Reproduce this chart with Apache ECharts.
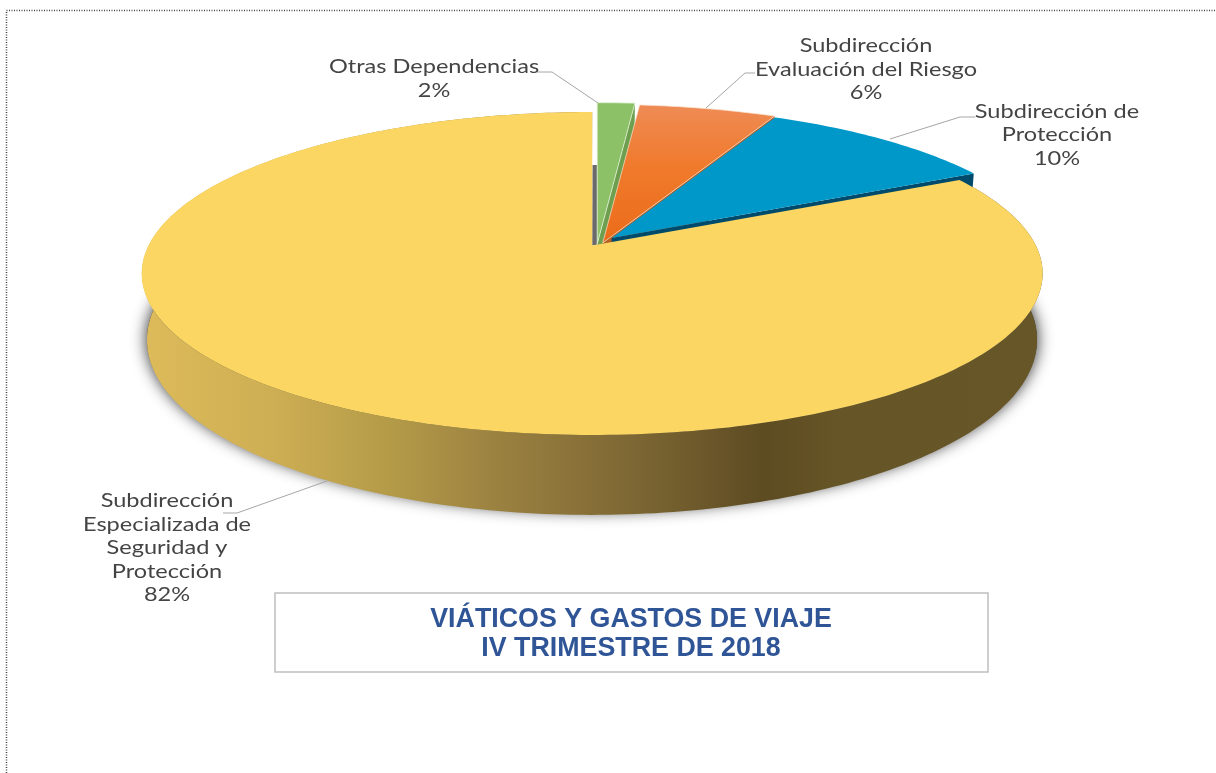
<!DOCTYPE html>
<html>
<head>
<meta charset="utf-8">
<title>Viáticos y gastos de viaje</title>
<script src="https://cdn.jsdelivr.net/npm/echarts@6/dist/echarts.min.js"></script>
<style>
    html, body { margin: 0; padding: 0; background: #fff; }
    #main { width: 1216px; height: 773px; }
</style>
</head>
<body>
<div id="main"></div>
<script>
//Chart data, clockwise from the top of the pie
const categories = [
    'Otras Dependencias',
    'Subdirección\nEvaluación del Riesgo',
    'Subdirección de\nProtección',
    'Subdirección\nEspecializada de\nSeguridad y\nProtección'
];
const shares = [1.5, 5.6, 10.45, 82.45];
const titleLines = ['VIÁTICOS Y GASTOS DE VIAJE', 'IV TRIMESTRE DE 2018'];

//Look of each slice
const topColors = [
    '#8CC168',
    new echarts.graphic.LinearGradient(0, 0, 0, 1, [
        { offset: 0, color: '#EE8B55' },
        { offset: 0.45, color: '#F07A2C' },
        { offset: 1, color: '#EB6C1A' }
    ]),
    '#0098C9',
    '#FBD662'
];
const edgeColors = ['rgba(225,240,215,0.8)', 'rgba(250,225,205,0.7)', null, null];
const wallColors = ['#6E9F4E', '#B55F25', '#004B6B', '#6A6A6A'];
const rimScale = [1.07, 1.045, 0.985, 1];
const sliceShift = [[5, -1.5], [10.5, -2.5], [19.5, -7.5], [0, 0]];

//Where the labels and their leader lines go
const labelSpots = [[434, 79], [866, 69.5], [1057, 135], [167, 548]];
const leaderLines = [
    [[537, 72], [552, 72], [598, 103]],
    [[706, 108], [745, 73], [755, 73]],
    [[890, 139], [960, 117], [975, 117]],
    [[327, 481], [237, 513], [223, 513]]
];

//Perspective of the upper and lower faces of the disc
const topFace = { x: 592.2, y: 245.5, w: 443.6, h: 156.6, k: 0.1734 };
const lowFace = { x: 592, y: 309.6, w: 438.3, h: 169.7, k: 0.1734 };
const haloFace = { x: 592, y: 309.6, w: 438.3, h: 166, k: 0.1734 };

function project(face, deg, r, shift) {
    let t = deg * Math.PI / 180;
    let ux = r * Math.sin(t);
    let uy = r * Math.cos(t);
    let d = 1 + face.k * uy;
    return [
        face.x + shift[0] + face.w * ux / d,
        face.y + shift[1] - face.h * uy / d
    ];
}

function arc(face, from, to, r, shift) {
    let pts = [];
    for (let a = from; a < to; a += 1) {
        pts.push(project(face, a, r, shift));
    }
    pts.push(project(face, to, r, shift));
    return pts;
}

const total = shares.reduce((a, b) => a + b, 0);
let running = 0;
const sliceAngles = shares.map(v => {
    let from = running / total * 360;
    running += v;
    return [from, running / total * 360];
});

function renderOuterWall(params, api) {
    let yellow = sliceAngles[3];
    let upper = arc(topFace, yellow[0], yellow[1], 1, [0, 0]);
    let lower = arc(lowFace, yellow[0], yellow[1], 1, [0, 0]).reverse();
    return {
        type: 'group',
        children: [
            {
                //soft shadow, only its blur shows past the wall
                type: 'polygon',
                silent: true,
                shape: { points: arc(haloFace, 80, 280, 1, [0, 0]) },
                style: {
                    fill: '#444',
                    shadowColor: 'rgba(0,0,0,0.85)',
                    shadowBlur: 16
                }
            },
            {
                type: 'polygon',
                silent: true,
                shape: { points: upper.concat(lower) },
                style: {
                    fill: new echarts.graphic.LinearGradient(0, 0, 1, 0, [
                        { offset: 0, color: '#DDBB5A' },
                        { offset: 0.14, color: '#CFAF54' },
                        { offset: 0.28, color: '#B39A48' },
                        { offset: 0.40, color: '#9A8040' },
                        { offset: 0.55, color: '#7C6633' },
                        { offset: 0.69, color: '#5D4B22' },
                        { offset: 0.77, color: '#665526' },
                        { offset: 1, color: '#675628' }
                    ])
                }
            },
            {
                //thin dark edge of the big slice, seen behind the green one
                type: 'polygon',
                silent: true,
                shape: {
                    points: [
                        project(lowFace, 0, 1, [0.5, 0]),
                        project(lowFace, 0, 1, [5, 0]),
                        project(topFace, 0, 0, [5, -1]),
                        project(topFace, 0, 0, [0, 0])
                    ]
                },
                style: { fill: wallColors[3] }
            }
        ]
    };
}

function renderSlice(params, api) {
    let i = api.value(0);
    let from = sliceAngles[i][0];
    let to = sliceAngles[i][1];
    let shift = sliceShift[i];
    let r = rimScale[i];
    let apex = project(topFace, 0, 0, shift);
    let children = [];
    if (i < 3) {
        //radial wall on the clockwise side, the next slice covers most of it
        children.push({
            type: 'polygon',
            silent: true,
            shape: {
                points: [
                    apex,
                    project(topFace, to, r, shift),
                    project(lowFace, to, r, shift),
                    project(lowFace, 0, 0, shift)
                ]
            },
            style: { fill: wallColors[i] }
        });
    }
    children.push({
        type: 'polygon',
        silent: true,
        shape: { points: [apex].concat(arc(topFace, from, to, r, shift)) },
        style: { fill: topColors[i], stroke: edgeColors[i], lineWidth: 1 }
    });
    return { type: 'group', children: children };
}

function renderLabel(params, api) {
    let i = api.value(0);
    return {
        type: 'group',
        children: [
            {
                type: 'polyline',
                silent: true,
                shape: { points: leaderLines[i] },
                style: { fill: null, stroke: '#A6A6A6', lineWidth: 1 }
            },
            {
                //reference text is a stretched humanist face
                type: 'text',
                silent: true,
                x: labelSpots[i][0],
                y: labelSpots[i][1],
                scaleX: 1.24,
                style: {
                    x: 0,
                    y: 0,
                    text: categories[i] + '\n' + Math.round(api.value(1)) + '%',
                    align: 'center',
                    verticalAlign: 'middle',
                    fill: '#444',
                    font: '19px Lato',
                    lineHeight: 23.4
                }
            }
        ]
    };
}

function draw_chart() {
    let chart = echarts.init(document.getElementById('main'), null, { renderer: 'canvas' });
    let rows = shares.map((v, i) => [i, v]);
    let option = {
        backgroundColor: '#fff',
        animation: false,
        graphic: [
            {
                type: 'polyline',
                silent: true,
                shape: { points: [[6.5, 773], [6.5, 10.5], [1216, 10.5]] },
                style: { fill: null, stroke: '#444', lineWidth: 1.5, lineDash: [1, 1.5] }
            },
            {
                type: 'rect',
                silent: true,
                shape: { x: 275, y: 593, width: 713, height: 79 },
                style: { fill: '#fff', stroke: '#BFBFBF', lineWidth: 1.5 }
            },
            {
                type: 'text',
                silent: true,
                style: {
                    x: 631,
                    y: 634,
                    text: titleLines.join('\n'),
                    align: 'center',
                    verticalAlign: 'middle',
                    fill: '#2F5597',
                    font: 'bold 26.8px "Liberation Sans"',
                    lineHeight: 29
                }
            }
        ],
        series: [
            { type: 'custom', coordinateSystem: 'none', z: 1, data: [rows[3]], renderItem: renderOuterWall },
            { type: 'custom', coordinateSystem: 'none', z: 2, data: rows, renderItem: renderSlice },
            { type: 'custom', coordinateSystem: 'none', z: 3, data: rows, renderItem: renderLabel }
        ]
    };
    chart.setOption(option);
}

draw_chart();
</script>
</body>
</html>
